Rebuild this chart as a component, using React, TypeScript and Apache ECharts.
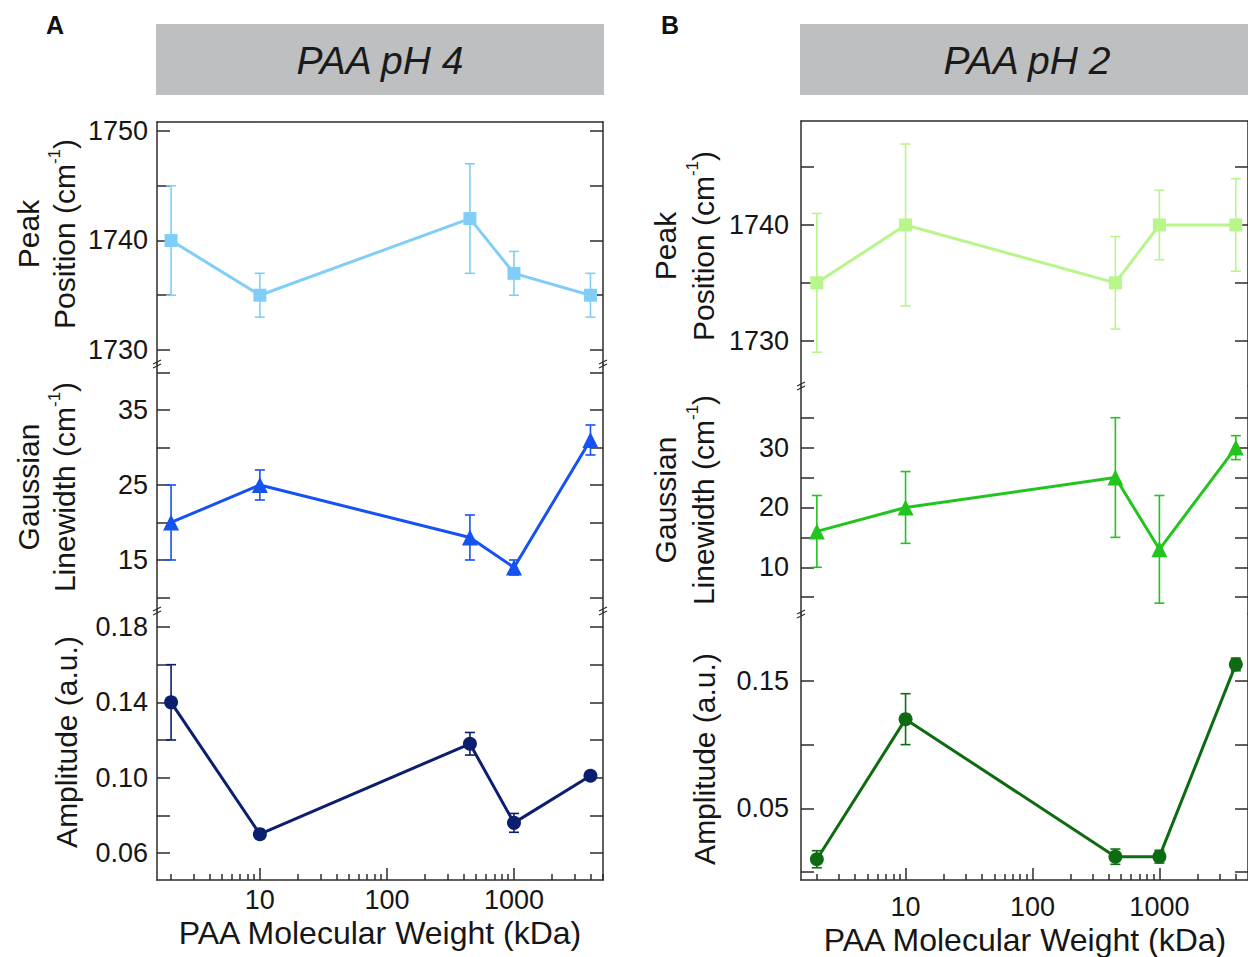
import React, { useEffect, useRef } from "react";
import * as echarts from "echarts";

// ---------- data ----------
const molecularWeight = [2, 10, 450, 1000, 4000];

// PAA pH 4 (panel A)
const peakPh4 = [1740, 1735, 1742, 1737, 1735];
const peakPh4Err = [5, 2, 5, 2, 2];
const widthPh4 = [20, 25, 18, 14, 31];
const widthPh4Err = [5, 2, 3, 1, 2];
const ampPh4 = [0.14, 0.07, 0.118, 0.076, 0.101];
const ampPh4Err = [0.02, 0.001, 0.006, 0.005, 0.001];

// PAA pH 2 (panel B)
const peakPh2 = [1735, 1740, 1735, 1740, 1740];
const peakPh2Err = [6, 7, 4, 3, 4];
const widthPh2 = [16, 20, 25, 13, 30];
const widthPh2Err = [6, 6, 10, 9, 2];
const ampPh2 = [0.01, 0.12, 0.012, 0.012, 0.163];
const ampPh2Err = [0.0067, 0.02, 0.006, 0.005, 0.005];

// tick values / labels
const xMajorTicks = [10, 100, 1000];
const xMinorTicks = [2, 3, 4, 5, 6, 7, 8, 9, 20, 30, 40, 50, 60, 70, 80, 90, 200, 300, 400, 500, 600, 700, 800, 900, 2000, 3000, 4000, 5000];
const peakTicksA = [1730, 1735, 1740, 1745, 1750];
const peakLabelsA = [1730, 1740, 1750];
const widthTicksA = [10, 15, 20, 25, 30, 35, 40];
const widthLabelsA = [15, 25, 35];
const ampTicksA = [0.06, 0.08, 0.1, 0.12, 0.14, 0.16, 0.18];
const ampLabelsA = [0.06, 0.1, 0.14, 0.18];
const peakTicksB = [1730, 1735, 1740, 1745];
const peakLabelsB = [1730, 1740];
const widthTicksB = [5, 10, 15, 20, 25, 30, 35];
const widthLabelsB = [10, 20, 30];
const ampTicksB = [0, 0.05, 0.1, 0.15];
const ampLabelsB = [0.05, 0.15];

const FONT = "'Liberation Sans', Arial, Helvetica, sans-serif";
const FRAME = "#2b2b2b";
const TXT = "#161616";

type Sub = {
  top: number; bottom: number; min: number; max: number;
  ticks: number[]; labels: number[]; dec: number;
  data: number[]; err: number[]; color: string; symbol: string; size: number;
  title: string; tx: number; ty: number; lh: number;
};
type Panel = {
  left: number; width: number; xMin: number; xMax: number; labelMargin: number; yLabelMargin: number;
  header: string; letter: string; letterX: number; titleY: number; subs: Sub[];
};

const panels: Panel[] = [
  {
    left: 157, width: 446, xMin: 1.55, xMax: 5020, labelMargin: 6, yLabelMargin: 9,
    header: "PAA pH 4", letter: "A", letterX: 55, titleY: 933,
    subs: [
      { top: 122, bottom: 364, min: 1728.72, max: 1750.82, ticks: peakTicksA, labels: peakLabelsA, dec: 0,
        data: peakPh4, err: peakPh4Err, color: "#80CEF7", symbol: "rect", size: 13,
        title: "Peak\nPosition (cm{sup|-1})", tx: 46, ty: 234, lh: 36 },
      { top: 364, bottom: 611, min: 8.2, max: 41.13, ticks: widthTicksA, labels: widthLabelsA, dec: 0,
        data: widthPh4, err: widthPh4Err, color: "#1652F0", symbol: "triangle", size: 16,
        title: "Gaussian\nLinewidth (cm{sup|-1})", tx: 46, ty: 487, lh: 36 },
      { top: 611, bottom: 880, min: 0.04566, max: 0.1885, ticks: ampTicksA, labels: ampLabelsA, dec: 2,
        data: ampPh4, err: ampPh4Err, color: "#0B1F6E", symbol: "circle", size: 14,
        title: "Amplitude (a.u.)", tx: 66, ty: 742, lh: 36 },
    ],
  },
  {
    left: 801, width: 452, xMin: 1.5, xMax: 4990, labelMargin: 13, yLabelMargin: 12,
    header: "PAA pH 2", letter: "B", letterX: 670, titleY: 940,
    subs: [
      { top: 121, bottom: 386, min: 1726.08, max: 1748.99, ticks: peakTicksB, labels: peakLabelsB, dec: 0,
        data: peakPh2, err: peakPh2Err, color: "#B8F58A", symbol: "rect", size: 13,
        title: "Peak\nPosition (cm{sup|-1})", tx: 684, ty: 246, lh: 38 },
      { top: 386, bottom: 614, min: 2.19, max: 40.3, ticks: widthTicksB, labels: widthLabelsB, dec: 0,
        data: widthPh2, err: widthPh2Err, color: "#22C41E", symbol: "triangle", size: 16,
        title: "Gaussian\nLinewidth (cm{sup|-1})", tx: 684, ty: 500, lh: 38 },
      { top: 614, bottom: 880, min: -0.00632, max: 0.2026, ticks: ampTicksB, labels: ampLabelsB, dec: 2,
        data: ampPh2, err: ampPh2Err, color: "#0D6B12", symbol: "circle", size: 14,
        title: "Amplitude (a.u.)", tx: 704, ty: 759, lh: 38 },
    ],
  },
];

function buildOption() {
  const grids: any[] = [];
  const xAxes: any[] = [];
  const yAxes: any[] = [];
  const series: any[] = [];
  const graphics: any[] = [];
  const frameLine = { color: FRAME, width: 1.5 };

  panels.forEach((p) => {
    // header
    graphics.push({ type: "rect", shape: { x: p.left - 1, y: 24, width: p.width + 2, height: 71 }, style: { fill: "#BEBFC0" }, z: 1 });
    graphics.push({ type: "text", x: p.left + p.width / 2, y: 60, style: { text: p.header, fontSize: 39, fontStyle: "italic", fontFamily: FONT, fill: "#1a1a1a", align: "center", verticalAlign: "middle" }, z: 2 });
    graphics.push({ type: "text", x: p.letterX, y: 25, style: { text: p.letter, fontSize: 25, fontWeight: "bold", fontFamily: FONT, fill: "#111", align: "center", verticalAlign: "middle" }, z: 2 });
    graphics.push({ type: "text", x: p.left + p.width / 2 - (p.letter === "B" ? 2 : 0), y: p.titleY, style: { text: "PAA Molecular Weight (kDa)", fontSize: 32, fontFamily: FONT, fill: TXT, align: "center", verticalAlign: "middle" }, z: 2 });

    p.subs.forEach((s, si) => {
      const gi = grids.length;
      const isTop = si === 0;
      const isBottom = si === p.subs.length - 1;
      grids.push({ left: p.left, top: s.top, width: p.width, height: s.bottom - s.top });
      const xi = xAxes.length;
      xAxes.push({
        type: "log", logBase: 10, gridIndex: gi, min: p.xMin, max: p.xMax,
        position: isTop ? "top" : "bottom", show: isTop || isBottom,
        axisLine: { show: true, onZero: false, lineStyle: frameLine },
        axisTick: isBottom ? { show: true, inside: true, length: 12, customValues: xMajorTicks, lineStyle: frameLine } : { show: false },
        axisLabel: isBottom ? { show: true, customValues: xMajorTicks, formatter: (v: number) => String(Math.round(v)), fontSize: 27, fontFamily: FONT, color: TXT, margin: p.labelMargin } : { show: false },
        splitLine: { show: false }, minorTick: { show: false }, minorSplitLine: { show: false },
      });
      const yi = yAxes.length;
      const yCommon = {
        type: "value", gridIndex: gi, min: s.min, max: s.max,
        axisLine: { show: true, onZero: false, lineStyle: frameLine },
        axisTick: { show: true, inside: true, length: 13, customValues: s.ticks, lineStyle: frameLine },
        splitLine: { show: false },
      };
      yAxes.push({
        ...yCommon, position: "left",
        axisLabel: { show: true, customValues: s.labels, formatter: (v: number) => v.toFixed(s.dec), fontSize: 27, fontFamily: FONT, color: TXT, margin: p.yLabelMargin },
      });
      yAxes.push({ ...yCommon, position: "right", axisLabel: { show: false } });

      const color = s.color;
      series.push({
        type: "custom", xAxisIndex: xi, yAxisIndex: yi, z: 2,
        encode: { x: 0, y: 1 },
        data: molecularWeight.map((x, i) => [x, s.data[i], s.err[i]]),
        renderItem: (_params: any, api: any) => {
          const x = api.value(0), y = api.value(1), e = api.value(2);
          const hi = api.coord([x, y + e]);
          const lo = api.coord([x, y - e]);
          const hw = 5;
          const st = { stroke: color, lineWidth: 1.6 };
          return {
            type: "group",
            children: [
              { type: "line", shape: { x1: hi[0], y1: hi[1], x2: lo[0], y2: lo[1] }, style: st },
              { type: "line", shape: { x1: hi[0] - hw, y1: hi[1], x2: hi[0] + hw, y2: hi[1] }, style: st },
              { type: "line", shape: { x1: lo[0] - hw, y1: lo[1], x2: lo[0] + hw, y2: lo[1] }, style: st },
            ],
          };
        },
      });
      series.push({
        type: "line", xAxisIndex: xi, yAxisIndex: yi, z: 3,
        data: molecularWeight.map((x, i) => [x, s.data[i]]),
        symbol: s.symbol, symbolSize: s.size, showAllSymbol: true,
        lineStyle: { color, width: 3 }, itemStyle: { color },
      });

      // axis title
      graphics.push({
        type: "text", x: s.tx, y: s.ty, rotation: Math.PI / 2,
        style: {
          text: s.title, fontSize: 30, fontFamily: FONT, fill: TXT, lineHeight: s.lh,
          align: "center", verticalAlign: "middle",
          rich: { sup: { fontSize: 17, fontFamily: FONT, fill: TXT, verticalAlign: "top", lineHeight: s.lh } },
        },
        z: 2,
      });

      // axis break marks
      if (!isBottom) {
        [p.left, p.left + p.width].forEach((ax) => {
          [-2, 2].forEach((d) => {
            graphics.push({ type: "line", shape: { x1: ax - 4, y1: s.bottom + d + 2, x2: ax + 4, y2: s.bottom + d - 2 }, style: { stroke: FRAME, lineWidth: 1.2 }, z: 5 });
          });
        });
      }
    });

    // minor x ticks on an overlay grid matching the bottom subplot
    const last = p.subs[p.subs.length - 1];
    const gm = grids.length;
    grids.push({ left: p.left, top: last.top, width: p.width, height: last.bottom - last.top });
    xAxes.push({
      type: "log", logBase: 10, gridIndex: gm, min: p.xMin, max: p.xMax, position: "bottom",
      axisLine: { show: false, onZero: false },
      axisTick: { show: true, inside: true, length: 6, customValues: xMinorTicks, lineStyle: frameLine },
      axisLabel: { show: false }, splitLine: { show: false },
    });
    yAxes.push({ type: "value", gridIndex: gm, min: 0, max: 1, show: false });
  });

  return {
    animation: false,
    backgroundColor: "#ffffff",
    grid: grids,
    xAxis: xAxes,
    yAxis: yAxes,
    series,
    graphic: graphics,
  };
}

export default function App() {
  const ref = useRef<HTMLDivElement>(null);
  useEffect(() => {
    if (!ref.current) return;
    const chart = echarts.init(ref.current, null, { renderer: "svg" });
    chart.setOption(buildOption() as any);
    return () => chart.dispose();
  }, []);
  return (
    <div
      ref={ref}
      style={{ position: "fixed", left: 0, top: 0, width: 1248, height: 957, background: "#fff" }}
    />
  );
}
